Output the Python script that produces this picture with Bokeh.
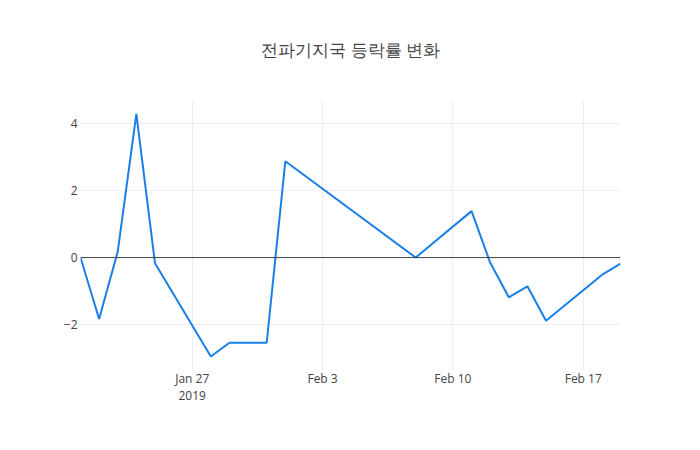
from datetime import datetime
from bokeh.plotting import figure
from bokeh.models import Range1d, FixedTicker, Span
from bokeh.embed import file_html
from bokeh.resources import INLINE

dates = ["2019-01-21", "2019-01-22", "2019-01-23", "2019-01-24", "2019-01-25",
         "2019-01-28", "2019-01-29", "2019-01-30", "2019-01-31", "2019-02-01",
         "2019-02-08", "2019-02-11", "2019-02-12", "2019-02-13", "2019-02-14",
         "2019-02-15", "2019-02-18", "2019-02-19"]
values = [0.0, -1.84, 0.18, 4.3, -0.17,
          -2.96, -2.55, -2.55, -2.55, 2.88,
          0.0, 1.39, -0.15, -1.19, -0.86,
          -1.89, -0.52, -0.18]
x_tick_dates = ["2019-01-27", "2019-02-03", "2019-02-10", "2019-02-17"]
x_tick_labels = ["Jan 27\n2019", "Feb 3", "Feb 10", "Feb 17"]
y_ticks = [-2, 0, 2, 4]
y_tick_labels = ["\u22122", "0", "2", "4"]
title = "전파기지국 등락률 변화"

xs = [datetime.strptime(d, "%Y-%m-%d") for d in dates]

def ms(d):
    return datetime.strptime(d, "%Y-%m-%d").timestamp() * 1000.0

p = figure(width=700, height=450, x_axis_type="datetime",
           output_backend="svg", toolbar_location=None,
           min_border_left=80, min_border_right=80,
           min_border_top=100, min_border_bottom=80)
p.x_range = Range1d(ms(dates[0]), ms(dates[-1]))
p.y_range = Range1d(-3.38, 4.70)

p.title.text = title
p.title.align = "center"
p.title.vertical_align = "top"
p.title.text_font = "Open Sans"
p.title.text_font_size = "17px"
p.title.text_font_style = "normal"
p.title.text_color = "#444444"
p.title.standoff = 75

p.outline_line_color = None
p.background_fill_color = "white"
p.border_fill_color = "white"

tick_ms = [ms(d) for d in x_tick_dates]
p.xaxis.ticker = FixedTicker(ticks=tick_ms)
p.xaxis.major_label_overrides = {t: l for t, l in zip(tick_ms, x_tick_labels)}
p.yaxis.ticker = FixedTicker(ticks=y_ticks)
p.yaxis.major_label_overrides = {t: l for t, l in zip(y_ticks, y_tick_labels)}

for ax in (p.xaxis, p.yaxis):
    ax.axis_line_color = None
    ax.major_tick_line_color = None
    ax.minor_tick_line_color = None
    ax.major_label_text_font = "Open Sans"
    ax.major_label_text_font_size = "12px"
    ax.major_label_text_color = "#444444"
    ax.major_label_text_line_height = 1.0
p.xaxis.major_label_standoff = -7
p.yaxis.major_label_standoff = -3

p.xgrid.grid_line_color = "#eeeeee"
p.ygrid.grid_line_color = "#eeeeee"
p.xgrid.grid_line_width = 1
p.ygrid.grid_line_width = 1

p.add_layout(Span(location=0, dimension="width", line_color="#444444", line_width=1))

p.line(xs, values, line_color="#1a7fe6", line_width=2)

open("out.html", "w").write(file_html(p, INLINE))
